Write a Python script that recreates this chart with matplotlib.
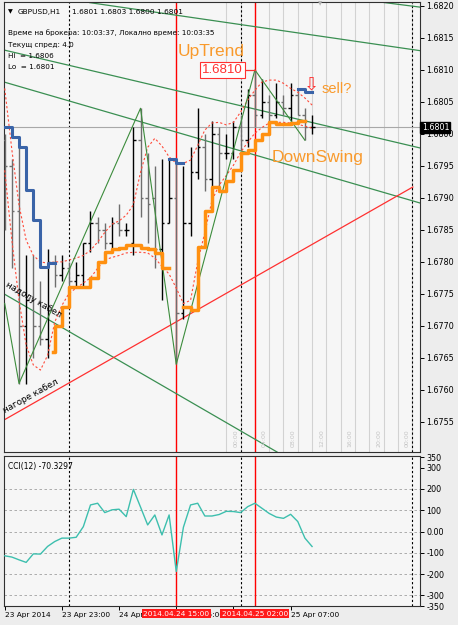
import numpy as np
import matplotlib.pyplot as plt

W, H = 458, 625

# ---- часови барове GBPUSD H1, 23.04 15:00 ... 25.04 10:00 (индекс = бар)
opens = [1.6799, 1.6795, 1.6788, 1.6770, 1.6774, 1.6770, 1.6768, 1.6780, 1.6778, 1.6779,
         1.6777, 1.6778, 1.6783, 1.6786, 1.6785, 1.6783, 1.6786, 1.6785, 1.6783, 1.6799,
         1.6790, 1.6790, 1.6782, 1.6786, 1.6790, 1.6772, 1.6786, 1.6794, 1.6798, 1.6793,
         1.6800, 1.6797, 1.6797, 1.6801, 1.6799, 1.6806, 1.6803, 1.6805, 1.6803, 1.6805,
         1.6804, 1.6806, 1.6803, 1.6801]
highs = [1.6800, 1.6796, 1.6798, 1.6781, 1.6781, 1.6777, 1.6782, 1.6781, 1.6781, 1.6780,
         1.6780, 1.6783, 1.6788, 1.6787, 1.6786, 1.6787, 1.6789, 1.6786, 1.6801, 1.6804,
         1.6797, 1.6795, 1.6796, 1.6796, 1.6796, 1.6795, 1.6798, 1.6804, 1.6800, 1.6802,
         1.6801, 1.6800, 1.6802, 1.6803, 1.6807, 1.6810, 1.68085, 1.6806, 1.6808, 1.6806,
         1.6808, 1.6807, 1.6804, 1.6803]
lows = [1.6785, 1.6779, 1.6761, 1.6761, 1.6765, 1.6767, 1.6765, 1.6776, 1.6777, 1.6775,
        1.6776, 1.6776, 1.67815, 1.6783, 1.6782, 1.6782, 1.6784, 1.6784, 1.6781, 1.6787,
        1.6783, 1.6779, 1.6774, 1.6786, 1.6764, 1.6771, 1.6784, 1.6793, 1.6791, 1.6791,
        1.6791, 1.6796, 1.6796, 1.67975, 1.6798, 1.6801, 1.68025, 1.6801, 1.68025, 1.6803,
        1.6802, 1.6803, 1.6799, 1.6800]
closes = [1.6795, 1.6788, 1.6770, 1.6774, 1.6770, 1.6768, 1.6780, 1.6778, 1.6779, 1.6777,
          1.6778, 1.6783, 1.6786, 1.6785, 1.6783, 1.6786, 1.6785, 1.6785, 1.6799, 1.6790,
          1.6789, 1.6782, 1.6786, 1.6790, 1.6772, 1.6786, 1.6794, 1.6798, 1.6793, 1.6800,
          1.6797, 1.6797, 1.6801, 1.6799, 1.6806, 1.6803, 1.6805, 1.6803, 1.6805, 1.6804,
          1.6806, 1.6803, 1.6801, 1.6801]

# червените пунктирни криви (горна / долна)
upper_band = [1.68071, 1.67975, 1.67889, 1.67834, 1.67810, 1.67800, 1.67798, 1.67800, 1.67800, 1.67803,
              1.67806, 1.67810, 1.67818, 1.67831, 1.67846, 1.67859, 1.67864, 1.67873, 1.67889, 1.67940,
              1.67979, 1.67993, 1.67981, 1.67964, 1.67954, 1.67954, 1.67959, 1.67982, 1.68006, 1.68017,
              1.68018, 1.68014, 1.68018, 1.68034, 1.68053, 1.68068, 1.68081, 1.68084, 1.68084, 1.68079,
              1.68071, 1.68065, 1.68056, 1.68045]
lower_band = [1.67943, 1.67834, 1.67740, 1.67670, 1.67639, 1.67631, 1.67654, 1.67706, 1.67732, 1.67751,
              1.67759, 1.67767, 1.67775, 1.67790, 1.67803, 1.67807, 1.67810, 1.67814, 1.67815, 1.67815,
              1.67814, 1.67806, 1.67793, 1.67781, 1.67759, 1.67735, 1.67740, 1.67800, 1.67846, 1.67896,
              1.67920, 1.67935, 1.67951, 1.67971, 1.67987, 1.68001, 1.68010, 1.68017, 1.68018, 1.68018,
              1.68017, 1.68015, 1.68012, 1.68009]

# стъпаловидни линии (стоп нива)
blue1_x = [-0.1, 0, 1, 2, 3, 4, 5, 6, 7]
blue1_y = [1.6801, 1.6801, 1.67995, 1.6798, 1.67912, 1.67865, 1.67792, 1.67798, 1.67798]
blue2_x = [23, 24, 25]
blue2_y = [1.6796, 1.67955, 1.67955]
blue3_x = [41, 42, 43]
blue3_y = [1.6807, 1.68066, 1.68066]
orange1_x = [6.8, 7, 8, 9, 10, 11, 12, 13, 14, 15, 16, 17, 18, 19, 20, 21, 22, 23]
orange1_y = [1.6766, 1.6770, 1.6773, 1.6776, 1.6776, 1.6776, 1.67775, 1.6780, 1.67815, 1.6782,
             1.67822, 1.67826, 1.67826, 1.67822, 1.6782, 1.67814, 1.6779, 1.6779]
orange2_x = list(range(25, 43))
orange2_y = [1.6773, 1.67725, 1.67823, 1.6788, 1.67917, 1.6791, 1.67927, 1.67943, 1.6797, 1.67975,
             1.6799, 1.6800, 1.68019, 1.68015, 1.68015, 1.68017, 1.6802, 1.6802]

# зигзаг
zz_x = [0, 2, 19, 24, 35, 42]
zz_y = [1.67735, 1.6761, 1.6804, 1.6764, 1.6810, 1.6799]

# трендови линии (бар, цена)
green_lines = [((11.9, 1.68205), (58.1, 1.6813)),
               ((-0.1, 1.68131), (58.1, 1.67978)),
               ((-0.1, 1.68081), (58.1, 1.67892)),
               ((-0.1, 1.67750), (38.1, 1.67503)),
               ((52.5, 1.68206), (58.1, 1.68198))]
red_line = ((-0.1, 1.67553), (57.1, 1.67917))

cci = [-114, -120, -133, -145, -105, -106, -70, -47, -31, -31,
       -27, 23, 125, 133, 89, 102, 105, 70, 198, 115,
       31, 78, -16, 78, -188, 20, 125, 133, 73, 73,
       80, 95, 94, 89, 117, 133, 109, 85, 68, 62,
       81, 47, -31, -70.33]

price_ticks = [1.6820, 1.6815, 1.6810, 1.6805, 1.6800, 1.6795, 1.6790, 1.6785,
               1.6780, 1.6775, 1.6770, 1.6765, 1.6760, 1.6755]
cci_ticks = [350, 300, 200, 100, 0, -100, -200, -300, -350]
cci_tick_labels = ['350', '300', '200', '100', '0.00', '-100', '-200', '-300', '-350']
# етикетите под червените маркери почти не се виждат в оригинала
time_ticks = [0, 8, 16, 24, 32, 40]
time_labels = ['23 Apr 2014', '23 Apr 23:00', '24 Apr 07:00', '24 Apr 15:00', '', '25 Apr 07:00']
day_lines = [9, 33, 57]
marked_bars = [24, 35]
marked_labels = ['2014.04.24 15:00', '2014.04.25 02:00']
hour_lines = list(range(31, 58, 2))
hour_label_bars = [33, 37, 41, 45, 49, 53, 57]
hour_labels = ['00:00', '04:00', '08:00', '12:00', '16:00', '20:00', '00:00']
last_price = 1.6801


def px(x, y):
    return x / W, 1 - y / H


fig = plt.figure(figsize=(W / 100, H / 100), dpi=100, facecolor='#ededed')
ax = fig.add_axes([4 / W, 1 - 452 / H, 416 / W, 450 / H], facecolor='#f6f6f6')
ax2 = fig.add_axes([4 / W, 1 - 606 / H, 416 / W, 150 / H], facecolor='#f6f6f6')

for a in (ax, ax2):
    a.set_xlim(-0.1, 58.1)
    for s in a.spines.values():
        s.set_color('#303030')
        s.set_linewidth(0.8)
    for b in marked_bars:
        a.axvline(b, color='red', lw=1, zorder=1)
    for b in day_lines:
        a.axvline(b, color='black', lw=0.8, ls=(0, (2, 2)), zorder=1)

ax.set_ylim(1.67503, 1.68206)

# светли вертикални линии + часове
for b in hour_lines:
    ax.axvline(b, color='#d2d2d2', lw=0.8, zorder=0.5)
for b, t in zip(hour_label_bars, hour_labels):
    ax.text(b - 0.3, 0.012, t, transform=ax.get_xaxis_transform(), rotation=90,
            ha='right', va='bottom', fontsize=4.5, color='#c4c4c4')

ax.axhline(last_price, color='#a8a8a8', lw=0.8, zorder=1)

# трендови линии
for (x0, y0), (x1, y1) in green_lines:
    ax.plot([x0, x1], [y0, y1], color='#3a8f52', lw=0.9, zorder=2)
ax.plot([red_line[0][0], red_line[1][0]], [red_line[0][1], red_line[1][1]],
        color='#ff3030', lw=0.9, zorder=2)

# барове
idx = np.arange(len(opens))
bar_col = ['#000000' if c >= o else '#6e6e6e' for o, c in zip(opens, closes)]
ax.vlines(idx, lows, highs, colors=bar_col, lw=1, zorder=3)
ax.hlines(opens, idx - 0.35, idx, colors=bar_col, lw=1, zorder=3)
ax.hlines(closes, idx, idx + 0.35, colors=bar_col, lw=1, zorder=3)

# индикатори
ax.plot(idx, upper_band, color='#ff4a3a', lw=0.8, ls=(0, (2, 2)), zorder=4)
ax.plot(idx, lower_band, color='#ff4a3a', lw=0.8, ls=(0, (2, 2)), zorder=4)
ax.plot(zz_x, zz_y, color='#3c8c3c', lw=0.8, zorder=4)
for xs, ys in [(blue1_x, blue1_y), (blue2_x, blue2_y), (blue3_x, blue3_y)]:
    ax.step(xs, ys, where='post', color='#3a64a8', lw=2.2, zorder=5)
for xs, ys in [(orange1_x, orange1_y), (orange2_x, orange2_y)]:
    ax.step(xs, ys, where='post', color='#ff9010', lw=2.5, zorder=5)

# етикет върха
ax.plot([33.8, 35], [1.6810, 1.6810], color='#ff3030', lw=0.9, zorder=6)
ax.text(30.5, 1.6810, '1.6810', ha='center', va='center', fontsize=9.5, color='#ff3030',
        family='Liberation Sans', zorder=7,
        bbox=dict(boxstyle='square,pad=0.15', fc='white', ec='#ff3030', lw=0.8))

# ценова скала
ax.yaxis.tick_right()
ax.set_yticks(price_ticks)
ax.set_yticklabels(['%.4f' % p for p in price_ticks])
ax.tick_params(axis='y', direction='out', length=3, width=0.7, pad=1.5, labelsize=5.8)
ax.set_xticks([])
ax.text(1.004, last_price, '%.4f' % last_price, transform=ax.get_yaxis_transform(),
        ha='left', va='center', fontsize=5.8, color='white', zorder=8, clip_on=False,
        bbox=dict(boxstyle='square,pad=0.15', fc='black', ec='black'))

# CCI
ax2.set_ylim(-349, 355)
for g in [200, 100, 0, -100, -200, -300]:
    ax2.axhline(g, color='#a0a0a0', lw=0.6, ls=(0, (3, 3)), zorder=0.5)
ax2.plot(idx, cci, color='#3dbfae', lw=1, zorder=3)
ax2.yaxis.tick_right()
ax2.set_yticks(cci_ticks)
ax2.set_yticklabels(cci_tick_labels)
ax2.tick_params(axis='y', direction='out', length=3, width=0.7, pad=1.5, labelsize=5.8)
ax2.set_xticks(time_ticks)
ax2.set_xticklabels(time_labels)
for lbl in ax2.get_xticklabels():
    lbl.set_ha('left')
ax2.tick_params(axis='x', direction='out', length=3, width=0.7, pad=1.5, labelsize=5.3)
for b, t in zip(marked_bars, marked_labels):
    ax2.text(b, -0.053, t, transform=ax2.get_xaxis_transform(), ha='center', va='center',
             fontsize=5.3, color='white', zorder=9, clip_on=False,
             bbox=dict(boxstyle='square,pad=0.2', fc='#ff1a1a', ec='none'))
ax2.text(0.01, 0.93, 'CCI(12) -70.3297', transform=ax2.transAxes, ha='left', va='center',
         fontsize=5.5, color='black')

# надписи в главния прозорец
fig.text(*px(8, 12), '▼', fontsize=4.5, va='center', ha='left')
fig.text(*px(18, 12), 'GBPUSD,H1', fontsize=5.3, va='center', ha='left')
fig.text(*px(72, 12), '1.6801 1.6803 1.6800 1.6801', fontsize=5.3, va='center', ha='left')
fig.text(*px(320, 4), '▼', fontsize=4, va='center', ha='center', color='#b0b0b0')
info = ['Време на брокера: 10:03:37, Локално време: 10:03:35', 'Текущ спред: 4.0',
        'Hi  = 1.6806', 'Lo  = 1.6801']
for t, yy in zip(info, [33, 45, 56, 67]):
    fig.text(*px(8, yy), t, fontsize=5.2, va='center', ha='left')

orange_txt = '#f99a2c'
fig.text(*px(178, 51.5), 'UpTrend', fontsize=12.5, color=orange_txt, va='center', ha='left',
         family='Liberation Sans')
fig.text(*px(272, 157.5), 'DownSwing', fontsize=12.5, color=orange_txt, va='center', ha='left',
         family='Liberation Sans')
fig.text(*px(322, 89), 'sell?', fontsize=10.5, color=orange_txt, va='center', ha='left',
         family='Liberation Sans')
fig.text(*px(311, 85), '⇩', fontsize=13, color='#ff3030', va='center', ha='center')
fig.text(*px(34, 300), 'надолу кабел', fontsize=6.3, rotation=-30, va='center', ha='center',
         rotation_mode='anchor')
fig.text(*px(31, 396), 'нагоре кабел', fontsize=6.3, rotation=29, va='center', ha='center',
         rotation_mode='anchor')

fig.savefig('out.png', dpi=100, facecolor=fig.get_facecolor())
